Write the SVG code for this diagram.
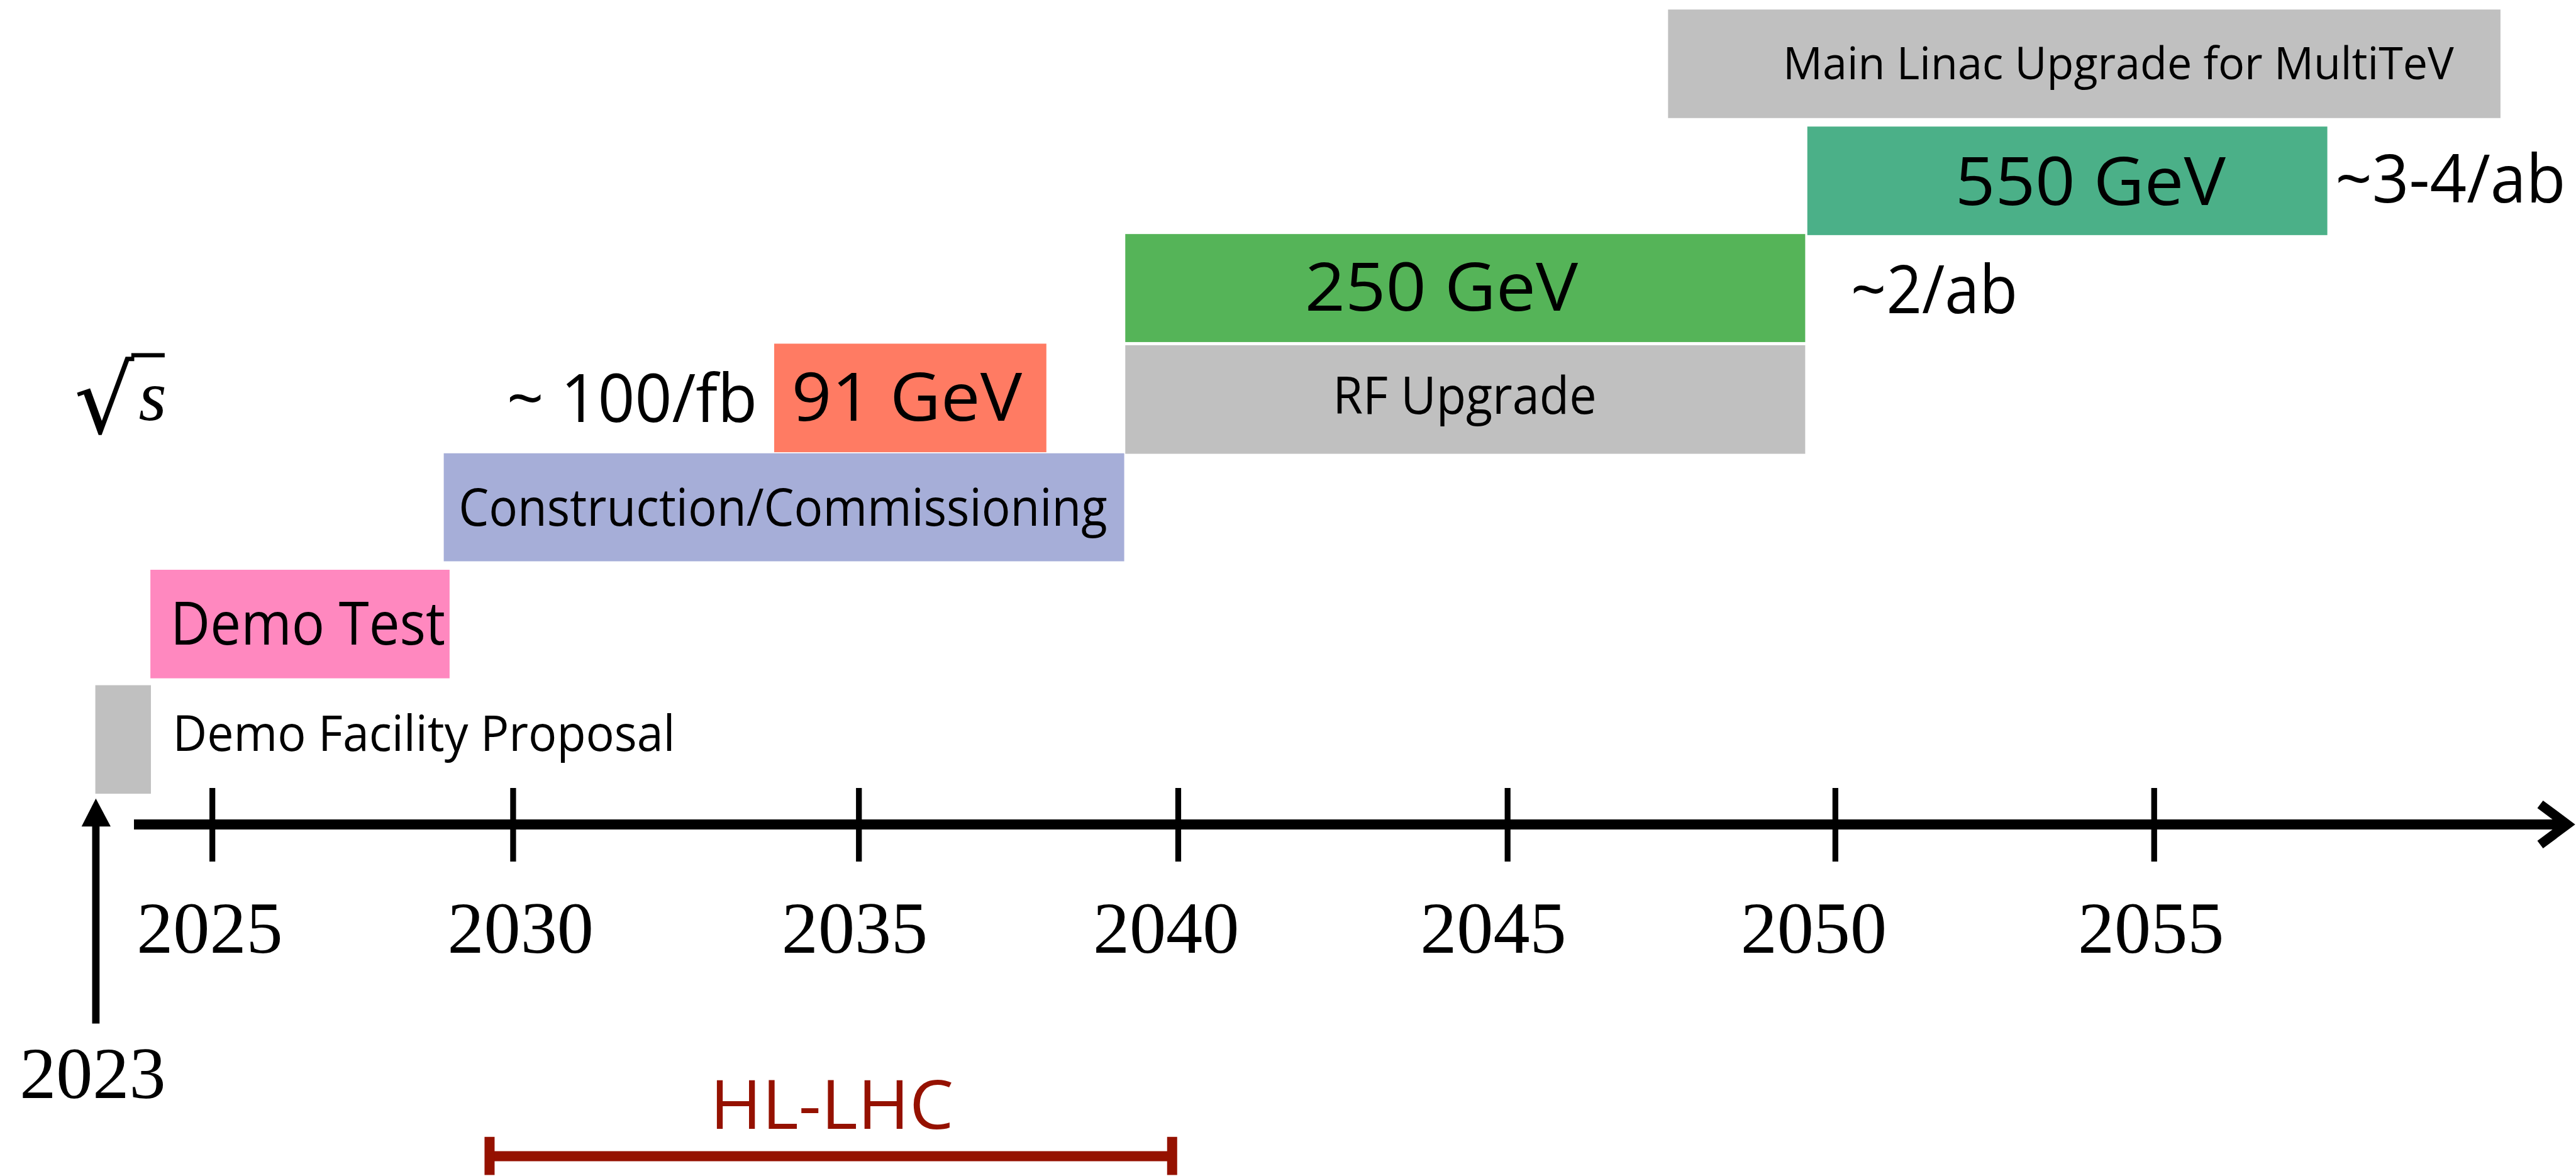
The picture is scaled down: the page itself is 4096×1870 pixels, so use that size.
<svg xmlns="http://www.w3.org/2000/svg" width="4096" height="1870" viewBox="0 0 4096 1870">
<style>
.lbl{font-family:"Open Sans","Liberation Sans",sans-serif;fill:#000}
.yr{font-family:"Liberation Serif","DejaVu Serif",serif;font-size:138px;fill:#000;text-anchor:middle}
.gray{fill:#c0c0c0}
</style>
<rect width="4096" height="1870" fill="#fff"/>
<g transform="scale(0.842)">
<g id="sqrt-s">
<text x="140" y="818" font-family="DejaVu Serif, serif" font-size="178">√</text>
<line x1="248" y1="671" x2="311" y2="671" stroke="#000" stroke-width="8"/>
<text x="262" y="793" font-family="Liberation Serif, serif" font-style="italic" font-size="135">s</text>
</g>
<g id="main-linac"><rect class="gray" x="3150" y="18" width="1572" height="205"/>
<text class="lbl" x="3367" y="150" font-size="85" textLength="1267" lengthAdjust="spacingAndGlyphs">Main Linac Upgrade for MultiTeV</text></g>
<g id="gev550"><rect x="3413" y="239" width="982" height="205" fill="#4bb088"/>
<text class="lbl" x="3692" y="387" font-size="127" textLength="511" lengthAdjust="spacingAndGlyphs">550 GeV</text></g>
<g id="lumi550"><text class="lbl" x="4410" y="383" font-size="127" textLength="435" lengthAdjust="spacingAndGlyphs">~3-4/ab</text></g>
<g id="gev250"><rect x="2125" y="442" width="1284" height="204" fill="#55b458"/>
<text class="lbl" x="2464" y="587" font-size="127" textLength="516" lengthAdjust="spacingAndGlyphs">250 GeV</text></g>
<g id="lumi250"><text class="lbl" x="3495" y="591" font-size="127" textLength="315" lengthAdjust="spacingAndGlyphs">~2/ab</text></g>
<g id="rf-upgrade"><rect class="gray" x="2125" y="652" width="1284" height="205"/>
<text class="lbl" x="2517" y="781" font-size="97" textLength="498" lengthAdjust="spacingAndGlyphs">RF Upgrade</text></g>
<g id="gev91"><rect x="1462" y="649" width="514" height="205" fill="#ff7b63"/>
<text class="lbl" x="1495" y="794" font-size="127" textLength="435" lengthAdjust="spacingAndGlyphs">91 GeV</text></g>
<g id="lumi91"><text class="lbl" x="957" y="797" font-size="127" textLength="473" lengthAdjust="spacingAndGlyphs">~ 100/fb</text></g>
<g id="construction"><rect x="838" y="856" width="1285" height="204" fill="#a6aed8"/>
<text class="lbl" x="866" y="993" font-size="97" textLength="1225" lengthAdjust="spacingAndGlyphs">Construction/Commissioning</text></g>
<g id="demo-test"><rect x="284" y="1076" width="565" height="205" fill="#ff88bf"/>
<text class="lbl" x="322" y="1217" font-size="112" textLength="519" lengthAdjust="spacingAndGlyphs">Demo Test</text></g>
<g id="demo-proposal"><rect class="gray" x="180" y="1294" width="105" height="205"/>
<text class="lbl" x="326" y="1418" font-size="94" textLength="949" lengthAdjust="spacingAndGlyphs">Demo Facility Proposal</text></g>
<g id="connectors">
<line x1="253" y1="1557" x2="4840" y2="1557" stroke="#000" stroke-width="19"/>
<polyline points="4797,1519 4848,1557 4797,1595" fill="none" stroke="#000" stroke-width="18" stroke-linejoin="miter" stroke-miterlimit="10"/>
<g stroke="#000" stroke-width="11">
<line x1="401" y1="1488" x2="401" y2="1627"/>
<line x1="969" y1="1488" x2="969" y2="1627"/>
<line x1="1622" y1="1488" x2="1622" y2="1627"/>
<line x1="2225" y1="1488" x2="2225" y2="1627"/>
<line x1="2847" y1="1488" x2="2847" y2="1627"/>
<line x1="3466" y1="1488" x2="3466" y2="1627"/>
<line x1="4068" y1="1488" x2="4068" y2="1627"/>
</g>
<rect x="174" y="1555" width="14" height="378" fill="#000"/>
<polygon points="181,1508 154,1561 209,1561" fill="#000"/>
<g fill="#951100">
<rect x="924" y="2174" width="1289" height="19"/>
<rect x="915" y="2147" width="19" height="72"/>
<rect x="2204" y="2147" width="19" height="72"/>
</g>
</g>
<g id="years">
<text class="yr" x="396" y="1799">2025</text>
<text class="yr" x="983" y="1799">2030</text>
<text class="yr" x="1614" y="1799">2035</text>
<text class="yr" x="2202" y="1799">2040</text>
<text class="yr" x="2820" y="1799">2045</text>
<text class="yr" x="3425" y="1799">2050</text>
<text class="yr" x="4062" y="1799">2055</text>
<text class="yr" x="175" y="2074">2023</text>
</g>
<g id="hl-lhc"><text class="lbl" x="1341" y="2132" font-size="129" fill="#951100" style="fill:#951100" textLength="460" lengthAdjust="spacingAndGlyphs">HL-LHC</text></g>
</g>
</svg>
